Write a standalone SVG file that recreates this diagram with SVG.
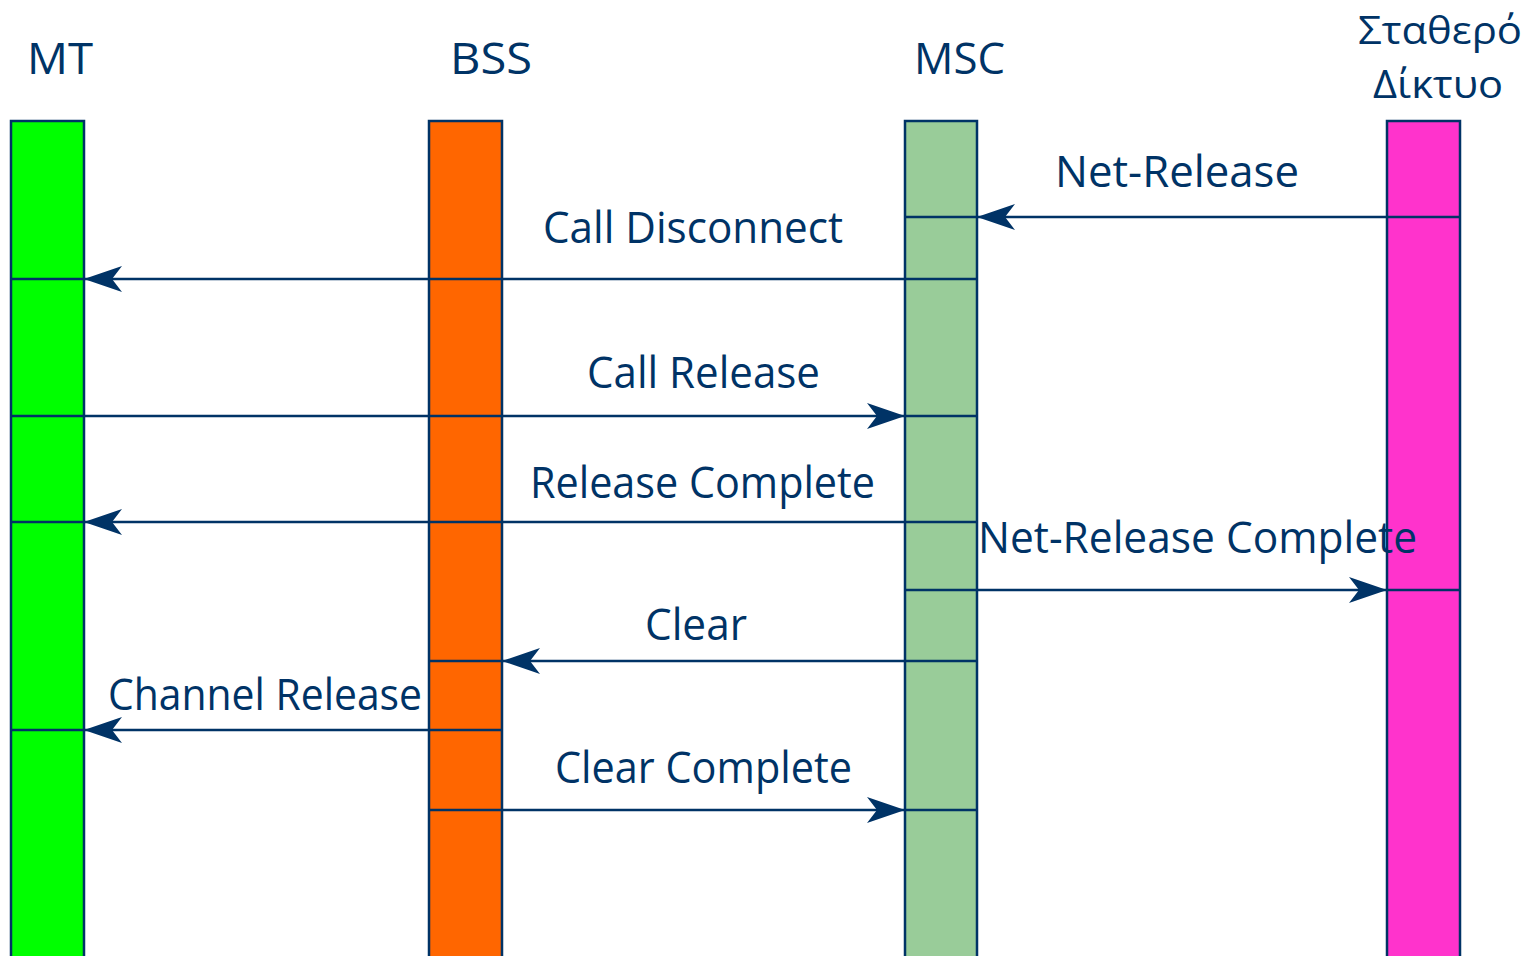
<svg xmlns="http://www.w3.org/2000/svg" width="1532" height="956" viewBox="0 0 1532 956">
<style>
.bar{stroke:#003366;stroke-width:2.5}
.ln{stroke:#003366;stroke-width:2.5;fill:none}
.t{font-family:"Open Sans","DejaVu Sans",sans-serif;font-size:44px;fill:#003366}
.g{font-size:39px}
</style>
<defs>
<marker id="ah" markerUnits="userSpaceOnUse" markerWidth="40" markerHeight="28" refX="38" refY="13" orient="auto" viewBox="0 0 40 26">
<path d="M0,0 L38,13 L0,26 L10,13 Z" fill="#003366"/>
</marker>
</defs>
<rect width="1532" height="956" fill="#fff"/>
<g id="MT"><rect class="bar" x="11" y="121" width="73" height="840" fill="#00FF00"/><text class="t" x="27" y="74" textLength="66" lengthAdjust="spacingAndGlyphs">MT</text></g>
<g id="BSS"><rect class="bar" x="429" y="121" width="73" height="840" fill="#FF6600"/><text class="t" x="450" y="74" textLength="82" lengthAdjust="spacingAndGlyphs">BSS</text></g>
<g id="MSC"><rect class="bar" x="905" y="121" width="72" height="840" fill="#99CC99"/><text class="t" x="914" y="74" textLength="91" lengthAdjust="spacingAndGlyphs">MSC</text></g>
<g id="NET"><rect class="bar" x="1387" y="121" width="73" height="840" fill="#FF33CC"/><text class="t g" x="1358" y="44" textLength="164" lengthAdjust="spacingAndGlyphs">Σταθερό</text><text class="t g" x="1373" y="98" textLength="130" lengthAdjust="spacingAndGlyphs">Δίκτυο</text></g>
<g id="connectors">
<line class="ln" x1="1460" y1="217" x2="977" y2="217" marker-end="url(#ah)"/><line class="ln" x1="905" y1="217" x2="977" y2="217"/>
<line class="ln" x1="977" y1="279" x2="84" y2="279" marker-end="url(#ah)"/><line class="ln" x1="10" y1="279" x2="84" y2="279"/>
<line class="ln" x1="10" y1="416" x2="905" y2="416" marker-end="url(#ah)"/><line class="ln" x1="905" y1="416" x2="977" y2="416"/>
<line class="ln" x1="977" y1="522" x2="84" y2="522" marker-end="url(#ah)"/><line class="ln" x1="10" y1="522" x2="84" y2="522"/>
<line class="ln" x1="905" y1="590" x2="1387" y2="590" marker-end="url(#ah)"/><line class="ln" x1="1387" y1="590" x2="1460" y2="590"/>
<line class="ln" x1="977" y1="661" x2="502" y2="661" marker-end="url(#ah)"/><line class="ln" x1="429" y1="661" x2="502" y2="661"/>
<line class="ln" x1="502" y1="730" x2="84" y2="730" marker-end="url(#ah)"/><line class="ln" x1="10" y1="730" x2="84" y2="730"/>
<line class="ln" x1="429" y1="810" x2="905" y2="810" marker-end="url(#ah)"/><line class="ln" x1="905" y1="810" x2="977" y2="810"/>
<text class="t" x="1055" y="187" textLength="244" lengthAdjust="spacingAndGlyphs">Net-Release</text>
<text class="t" x="543" y="243" textLength="300" lengthAdjust="spacingAndGlyphs">Call Disconnect</text>
<text class="t" x="587" y="388" textLength="233" lengthAdjust="spacingAndGlyphs">Call Release</text>
<text class="t" x="530" y="498" textLength="345" lengthAdjust="spacingAndGlyphs">Release Complete</text>
<text class="t" x="978" y="553" textLength="439" lengthAdjust="spacingAndGlyphs">Net-Release Complete</text>
<text class="t" x="645" y="640" textLength="102" lengthAdjust="spacingAndGlyphs">Clear</text>
<text class="t" x="108" y="710" textLength="314" lengthAdjust="spacingAndGlyphs">Channel Release</text>
<text class="t" x="555" y="783" textLength="297" lengthAdjust="spacingAndGlyphs">Clear Complete</text>
</g>
</svg>
